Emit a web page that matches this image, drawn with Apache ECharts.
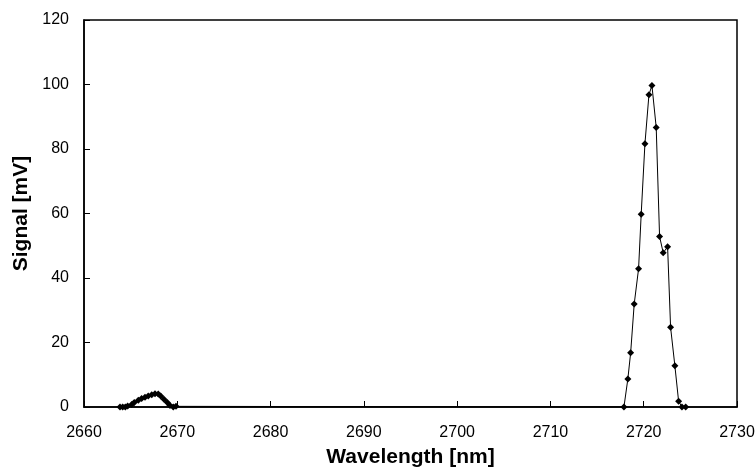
<!DOCTYPE html>
<html lang="en">
<head>
    <meta charset="UTF-8">
    <title>Signal vs wavelength</title>
    <script src="https://cdn.jsdelivr.net/npm/echarts@6/dist/echarts.min.js"></script>
    <style>
        body { margin: 0; background: #fff; }
        #main { width: 755px; height: 468px; }
    </style>
</head>
<body>
    <div id="main"></div>
<script type="text/javascript">
    // small peak near 2667 nm
    var wl1 = [2663.86, 2664.15, 2664.43, 2664.68, 2665.11, 2665.39, 2665.82, 2666.18, 2666.54,
        2666.89, 2667.26, 2667.61, 2667.96, 2668.22, 2668.57, 2668.93, 2669.22, 2669.57, 2669.86];
    var sig1 = [0, 0, 0, 0.3, 0.8, 1.4, 2.1, 2.6, 3.0, 3.4, 3.8, 4.1, 4.0, 3.4, 2.4, 1.4, 0.5, 0, 0.2];
    // main peak near 2721 nm
    var wl2 = [2717.88, 2718.3, 2718.6, 2718.98, 2719.45, 2719.73, 2720.13, 2720.56, 2720.88,
        2721.34, 2721.7, 2722.09, 2722.56, 2722.88, 2723.34, 2723.74, 2724.1, 2724.5];
    var sig2 = [0, 8.7, 16.8, 31.9, 42.9, 59.8, 81.6, 96.8, 99.7, 86.7, 52.9, 47.8, 49.7, 24.7, 12.8, 1.8, 0, 0];

    var xTicks = [2660, 2730, 10];
    var yTicks = [0, 120, 20];

    var data = [];
    for (var i = 0; i < wl1.length; i++) data.push([wl1[i], sig1[i]]);
    for (var j = 0; j < wl2.length; j++) data.push([wl2[j], sig2[j]]);

    var myChart = echarts.init(document.getElementById('main'));
    var font = 'Liberation Sans, Arial, sans-serif';
    option = {
        animation: false,
        grid: {
            left: 84, right: 18, top: 20, bottom: 61,
            outerBoundsMode: 'none',
            show: true, borderColor: '#000', borderWidth: 1.5, backgroundColor: '#fff'
        },
        xAxis: {
            type: 'value',
            min: xTicks[0], max: xTicks[1], interval: xTicks[2],
            name: 'Wavelength [nm]',
            nameLocation: 'middle',
            nameGap: 40,
            nameTextStyle: { fontFamily: font, fontWeight: 'bold', fontSize: 21, color: '#000' },
            axisLine: { lineStyle: { color: '#000', width: 1.5 } },
            axisTick: { inside: true, length: 6, lineStyle: { color: '#000' } },
            axisLabel: {
                fontFamily: font, fontSize: 16, color: '#000', margin: 18,
                formatter: function (v) { return String(v); }
            },
            splitLine: { show: false }
        },
        yAxis: {
            type: 'value',
            min: yTicks[0], max: yTicks[1], interval: yTicks[2],
            name: 'Signal [mV]',
            nameLocation: 'middle',
            nameGap: 51,
            nameTextStyle: { fontFamily: font, fontWeight: 'bold', fontSize: 21, color: '#000' },
            axisLine: { lineStyle: { color: '#000', width: 1.5 } },
            axisTick: { inside: true, length: 6, lineStyle: { color: '#000' } },
            axisLabel: { fontFamily: font, fontSize: 16, color: '#000', margin: 15 },
            splitLine: { show: false }
        },
        series: [{
            type: 'line',
            data: data,
            symbol: 'diamond',
            symbolSize: 7,
            showAllSymbol: true,
            itemStyle: { color: '#000' },
            lineStyle: { color: '#000', width: 1 }
        }]
    };
    myChart.setOption(option);
</script>
</body>
</html>
